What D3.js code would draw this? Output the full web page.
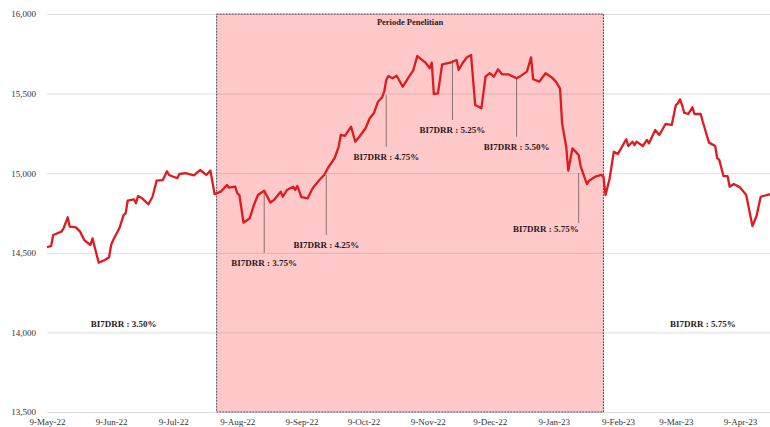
<!DOCTYPE html>
<html>
<head>
<meta charset="utf-8">
<script src="https://cdn.jsdelivr.net/npm/d3@7/dist/d3.min.js"></script>
<style>
  html, body { margin: 0; padding: 0; background: #fff; }
  svg { display: block; }
</style>
</head>
<body>
<svg id="chart" width="770" height="427"></svg>
<script>
// ---------------- DATA ----------------
const dates = [
  "2022-05-09","2022-05-11","2022-05-12","2022-05-16","2022-05-17","2022-05-19","2022-05-20","2022-05-23","2022-05-25","2022-05-27",
  "2022-05-30","2022-05-31","2022-06-01","2022-06-03","2022-06-06","2022-06-08","2022-06-09","2022-06-10","2022-06-13","2022-06-15",
  "2022-06-16","2022-06-17","2022-06-20","2022-06-21","2022-06-22","2022-06-24","2022-06-27","2022-06-29","2022-07-01","2022-07-04",
  "2022-07-06","2022-07-07","2022-07-11","2022-07-12","2022-07-15","2022-07-19","2022-07-22","2022-07-25","2022-07-27","2022-07-29",
  "2022-08-01","2022-08-04","2022-08-05","2022-08-08","2022-08-09","2022-08-10","2022-08-12","2022-08-15","2022-08-17","2022-08-19",
  "2022-08-22","2022-08-25","2022-08-27","2022-08-30","2022-08-31","2022-09-02","2022-09-05","2022-09-06","2022-09-07","2022-09-09",
  "2022-09-12","2022-09-14","2022-09-15","2022-09-18","2022-09-20","2022-09-22","2022-09-25","2022-09-27","2022-09-28","2022-09-30",
  "2022-10-03","2022-10-05","2022-10-07","2022-10-10","2022-10-12","2022-10-14","2022-10-16","2022-10-18","2022-10-19","2022-10-20",
  "2022-10-21","2022-10-23","2022-10-25","2022-10-28","2022-10-31","2022-11-02","2022-11-04","2022-11-06","2022-11-08","2022-11-10",
  "2022-11-11","2022-11-12","2022-11-14","2022-11-16","2022-11-20","2022-11-23","2022-11-24","2022-11-26","2022-11-28","2022-11-30",
  "2022-12-02","2022-12-05","2022-12-07","2022-12-09","2022-12-11","2022-12-13","2022-12-15","2022-12-18","2022-12-22","2022-12-24",
  "2022-12-27","2022-12-29","2022-12-30","2023-01-02","2023-01-05","2023-01-08","2023-01-10","2023-01-12","2023-01-13","2023-01-15",
  "2023-01-16","2023-01-18","2023-01-20","2023-01-21","2023-01-22","2023-01-25","2023-01-26","2023-01-29","2023-02-01","2023-02-02",
  "2023-02-03","2023-02-05","2023-02-07","2023-02-09","2023-02-13","2023-02-14","2023-02-16","2023-02-17","2023-02-18","2023-02-21",
  "2023-02-23","2023-02-24","2023-02-27","2023-03-01","2023-03-04","2023-03-07","2023-03-09","2023-03-10","2023-03-11","2023-03-12",
  "2023-03-13","2023-03-15","2023-03-17","2023-03-18","2023-03-21","2023-03-22","2023-03-25","2023-03-28","2023-03-29","2023-03-30",
  "2023-04-01","2023-04-03","2023-04-04","2023-04-06","2023-04-09","2023-04-12","2023-04-15","2023-04-17","2023-04-19","2023-04-22",
  "2023-04-24"
];
const rates = [
  14535,14543,14612,14633,14654,14723,14664,14660,14633,14580,
  14549,14591,14538,14438,14455,14472,14549,14580,14654,14737,
  14748,14827,14836,14811,14857,14842,14805,14852,14953,14957,
  15012,14989,14968,14995,15000,14987,15020,14989,15016,14869,
  14884,14926,14909,14915,14874,14863,14689,14717,14800,14863,
  14890,14815,14836,14884,14852,14895,14915,14895,14920,14849,
  14842,14895,14915,14962,14989,15037,15094,15166,15240,15234,
  15292,15198,15229,15282,15345,15376,15449,15477,15512,15585,
  15611,15596,15612,15543,15606,15644,15736,15715,15694,15659,
  15694,15497,15502,15684,15694,15711,15648,15694,15728,15742,
  15428,15408,15606,15628,15606,15653,15621,15621,15596,15611,
  15638,15728,15590,15575,15628,15602,15575,15533,15313,15166,
  15016,15156,15129,15114,15041,14932,14953,14978,14989,14978,
  14863,14968,15135,15121,15213,15171,15198,15177,15198,15171,
  15209,15188,15271,15240,15309,15303,15428,15439,15464,15428,
  15380,15372,15414,15372,15372,15323,15192,15171,15094,15083,
  14982,14982,14915,14932,14911,14863,14668,14731,14852,14863,
  14869
];

const yTicks = [13500, 14000, 14500, 15000, 15500, 16000];
const xTickDates = ["2022-05-09","2022-06-09","2022-07-09","2022-08-09","2022-09-09","2022-10-09",
                    "2022-11-09","2022-12-09","2023-01-09","2023-02-09","2023-03-09","2023-04-09"];

const periodRange = ["2022-07-30", "2023-02-02"];
const periodTitle = "Periode Penelitian";

// rate-decision callouts: date, text, line top value, line bottom value
const calloutDates  = ["2022-08-22","2022-09-21","2022-10-20","2022-11-21","2022-12-22","2023-01-21"];
const calloutLabels = ["BI7DRR : 3.75%","BI7DRR : 4.25%","BI7DRR : 4.75%","BI7DRR : 5.25%","BI7DRR : 5.50%","BI7DRR : 5.75%"];
const calloutTop    = [14880, 14989, 15491, 15711, 15598, 15001];
const calloutBottom = [14499, 14612, 15166, 15334, 15229, 14687];

// free-standing rate labels
const noteDates  = ["2022-06-15", "2023-03-22"];
const noteLabels = ["BI7DRR : 3.50%", "BI7DRR : 5.75%"];
const noteValues = [14053, 14053];

// ---------------- CHART ----------------
const parse = d3.timeParse("%Y-%m-%d");
const plotLeft = 47, plotRight = 770, plotTop = 14, plotBottom = 412;
const font = "'Liberation Serif', 'Times New Roman', serif";

const svg = d3.select("#chart");

const x = d3.scaleTime()
  .domain([parse("2022-05-09"), parse("2023-04-09")])
  .range([47, 740]);
const y = d3.scaleLinear().domain([13500, 16000]).range([plotBottom, plotTop]);

const data = dates.map((d, i) => ({ date: parse(d), value: rates[i] }));

// period shading
const px0 = x(parse(periodRange[0])), px1 = x(parse(periodRange[1]));
svg.append("rect")
  .attr("x", px0).attr("y", y(16000))
  .attr("width", px1 - px0).attr("height", y(13500) - y(16000))
  .attr("fill", "#ffc9c9");

// y axis with gridlines
const yAxis = svg.append("g")
  .attr("transform", `translate(${plotLeft},0)`)
  .call(d3.axisLeft(y).tickValues(yTicks).tickSize(-(plotRight - plotLeft)).tickPadding(11)
    .tickFormat(d3.format(",")));
yAxis.select(".domain").remove();
yAxis.selectAll(".tick line").attr("stroke", "rgba(0,0,0,0.13)").attr("stroke-width", 1);
yAxis.selectAll(".tick text")
  .attr("font-family", font).attr("font-size", 9).attr("fill", "#333");

// period border (dotted)
svg.append("rect")
  .attr("x", px0).attr("y", y(16000))
  .attr("width", px1 - px0).attr("height", y(13500) - y(16000))
  .attr("fill", "none")
  .attr("stroke", "#4b4d5e").attr("stroke-width", 1)
  .attr("stroke-dasharray", "2,1");

// x axis
const xAxis = svg.append("g")
  .attr("transform", `translate(0,${plotBottom})`)
  .call(d3.axisBottom(x).tickValues(xTickDates.map(parse)).tickSize(0).tickPadding(7)
    .tickFormat(d3.timeFormat("%-d-%b-%y")));
xAxis.select(".domain").remove();
xAxis.selectAll(".tick text")
  .attr("font-family", font).attr("font-size", 9).attr("fill", "#333");

// callout lines
calloutDates.forEach((d, i) => {
  const cx = x(parse(d));
  svg.append("line")
    .attr("x1", cx).attr("x2", cx)
    .attr("y1", y(calloutTop[i])).attr("y2", y(calloutBottom[i]))
    .attr("stroke", "#6b5a5a").attr("stroke-width", 0.8);
});

// main line
svg.append("path")
  .datum(data)
  .attr("fill", "none")
  .attr("stroke", "#df1b22")
  .attr("stroke-width", 2.3)
  .attr("stroke-linejoin", "round")
  .attr("d", d3.line().x(d => x(d.date)).y(d => y(d.value)));

// callout labels
calloutDates.forEach((d, i) => {
  const cx = x(parse(d));
  const last = i === calloutDates.length - 1;
  svg.append("text")
    .attr("x", cx)
    .attr("y", y(calloutBottom[i]) + (last ? 9 : 13))
    .attr("text-anchor", last ? "end" : "middle")
    .attr("font-family", font).attr("font-size", 9).attr("font-weight", "bold")
    .attr("fill", "#2a1a1a")
    .text(calloutLabels[i]);
});

// free notes
noteDates.forEach((d, i) => {
  svg.append("text")
    .attr("x", x(parse(d)))
    .attr("y", y(noteValues[i]) + 3)
    .attr("text-anchor", "middle")
    .attr("font-family", font).attr("font-size", 9).attr("font-weight", "bold")
    .attr("fill", "#2a1a1a")
    .text(noteLabels[i]);
});

// period title
svg.append("text")
  .attr("x", (px0 + px1) / 2)
  .attr("y", y(16000) + 11)
  .attr("text-anchor", "middle")
  .attr("font-family", font).attr("font-size", 8.5).attr("font-weight", "bold")
  .attr("fill", "#2a1a1a")
  .text(periodTitle);
</script>
</body>
</html>
